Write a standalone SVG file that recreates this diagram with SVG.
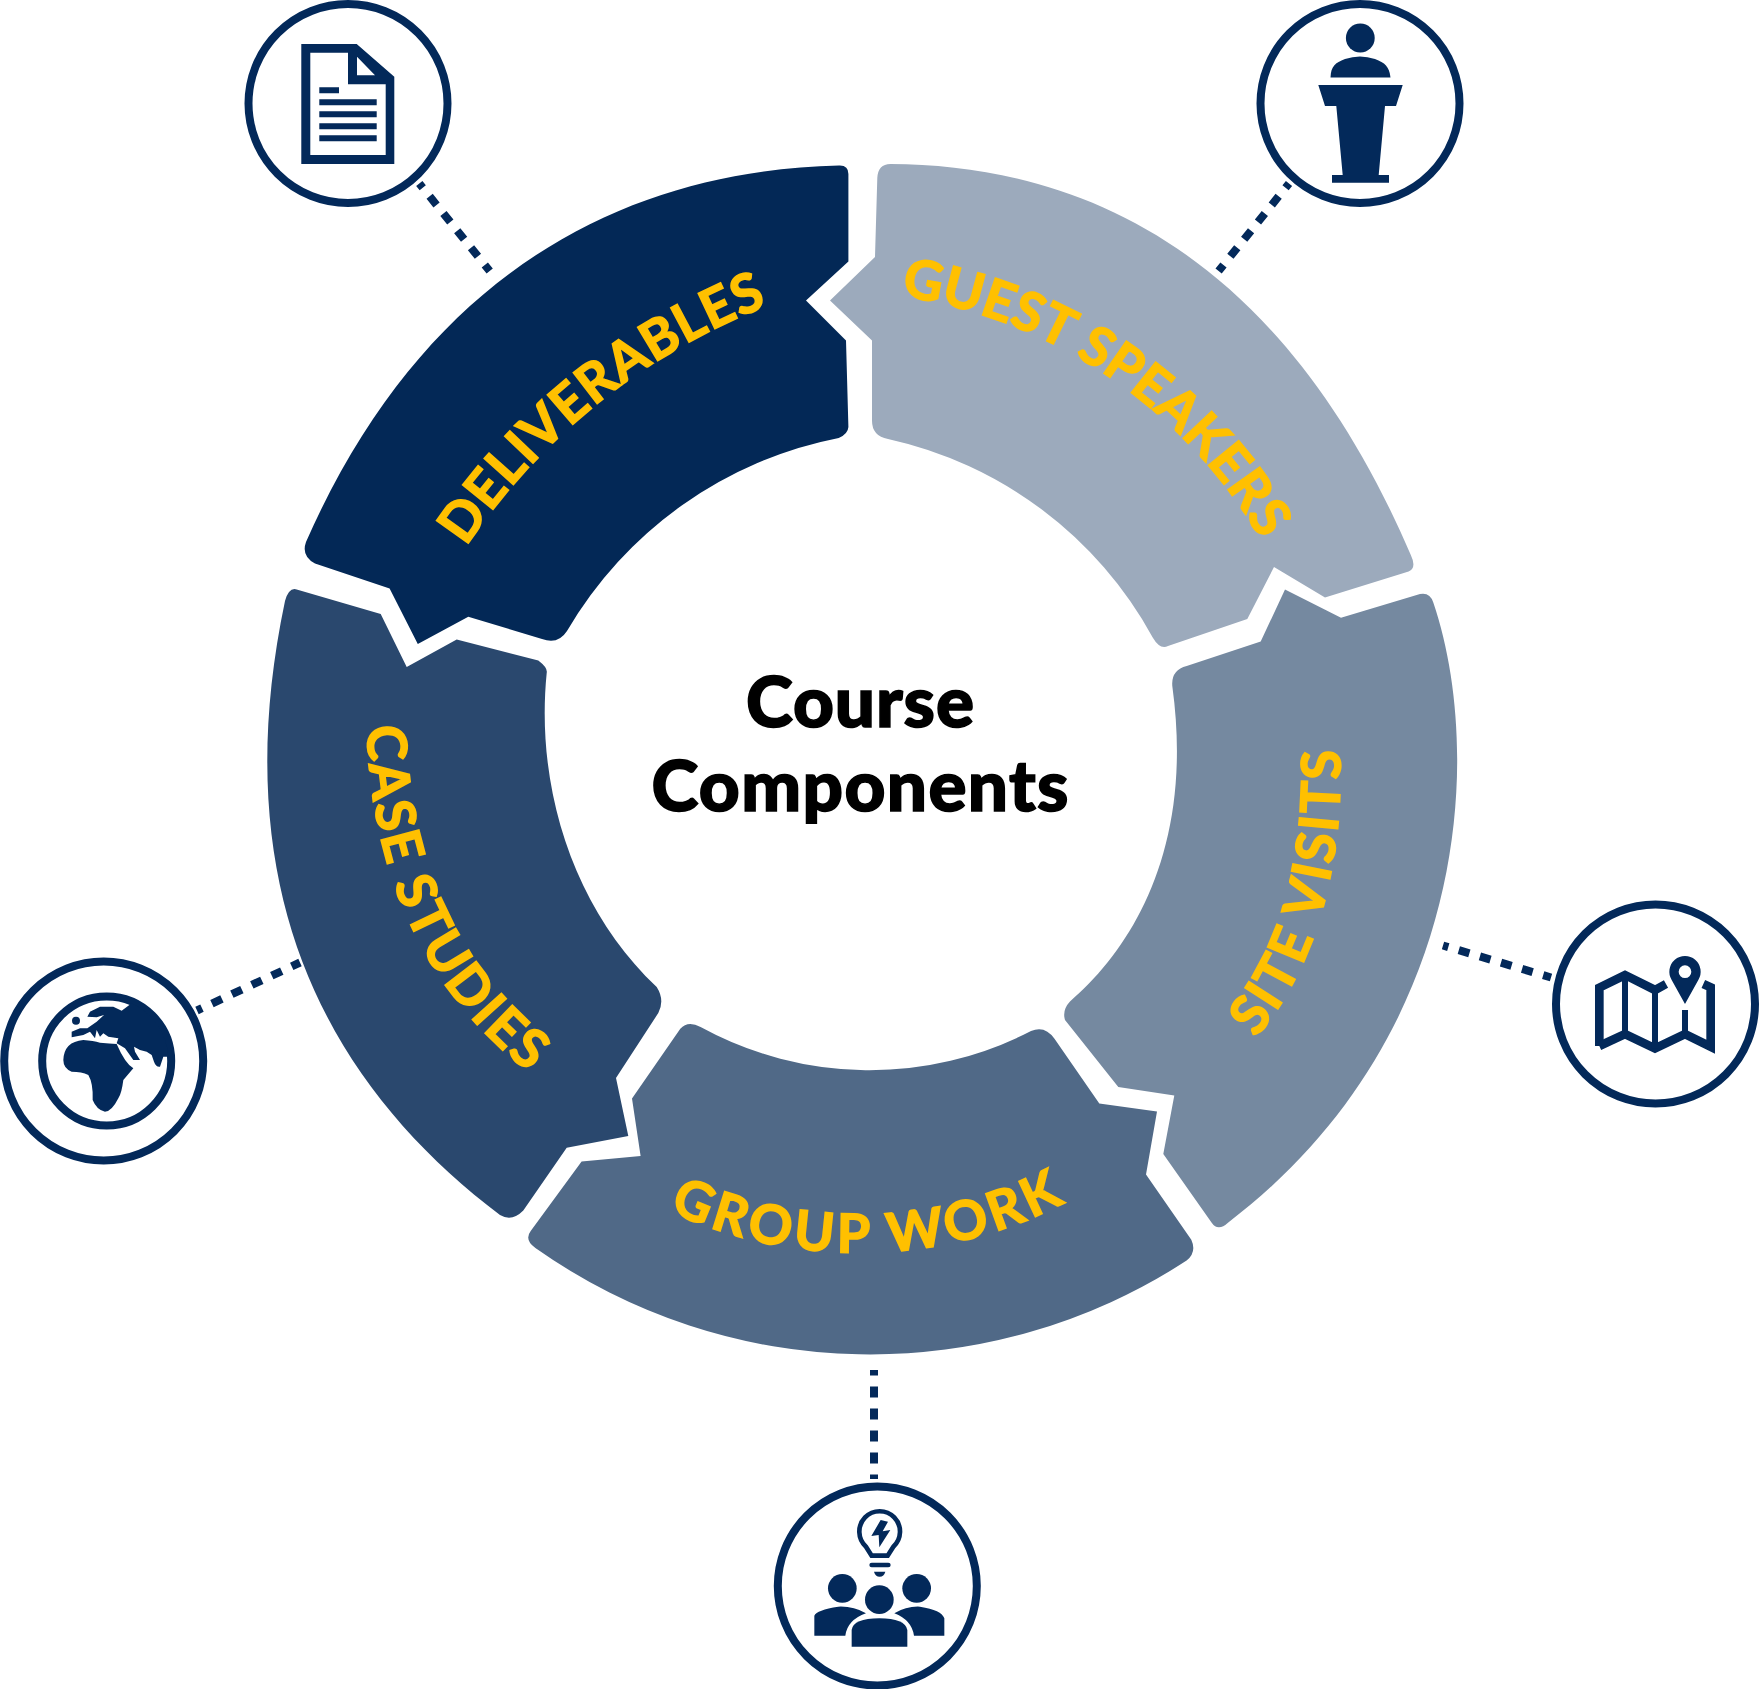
<svg xmlns="http://www.w3.org/2000/svg" width="1759" height="1689" viewBox="0 0 1759 1689">
<style>
.lab{font-family:"Lato","Liberation Sans",sans-serif;font-weight:700;font-size:54px;fill:#FFC000;stroke:#FFC000;stroke-width:1.6}
.ctr{font-family:"Lato","Liberation Sans",sans-serif;font-weight:900;font-size:71px;fill:#000;stroke:#000;stroke-width:1.6;text-anchor:middle}
.ring{fill:#fff;stroke:#03295A;stroke-width:8}
.ic{fill:#03295A}
.dash{fill:none;stroke:#03295A;stroke-width:8;stroke-dasharray:11 11;stroke-dashoffset:5.5}
</style>
<defs>
<path id="pD" d="M466,547 A640,640 0 0 1 767,306"/>
<path id="pG" d="M901,296 A500,500 0 0 1 1264,545"/>
<path id="pS" d="M1256,1038 C1309,975 1345,880 1340,745"/>
<path id="pW" d="M669,1211 A450,450 0 0 0 1068,1201"/>
<path id="pC" d="M367,726 C370,850 410,985 537,1078"/>
</defs>
<rect width="1759" height="1689" fill="#fff"/>
<g id="connectors">
<path class="dash" d="M419.3,183.5 L489.7,271"/>
<path class="dash" d="M1289,183.5 L1218.6,271"/>
<path class="dash" d="M197,1010.5 L300,962.5"/>
<path class="dash" d="M1443,945.5 L1551,977.5"/>
<path class="dash" d="M874,1370 L874,1479"/>
</g>
<g id="seg-deliverables">
<path fill="#032856" d="M848.4,174 Q848.4,165 839,165.5 C640,170 430,260 306,542 Q301,556 315,563.4 L389.6,588.5 L417.8,644 L468.3,616.7 L542,639 Q558,645 567,631 A405,405 0 0 1 838.7,438 Q848,434 848.4,427 L846,340.5 L806,300.5 L848.4,261.5 Z"/>
<text class="lab"><textPath href="#pD" textLength="392" lengthAdjust="spacing">DELIVERABLES</textPath></text>
</g>
<g id="seg-guest-speakers">
<path fill="#9CAABC" d="M877.3,178 Q878,164 890.4,164 C1080,165 1280,250 1410.8,555 Q1417,568 1408.6,571.6 L1325,597.6 L1274,567 L1247.3,619 L1168,646 Q1160,650 1152.7,637.5 A400,400 0 0 0 888,439 Q872,436 872,420.7 L872,340.5 L830,300.6 L875,257 Z"/>
<text class="lab"><textPath href="#pG" textLength="450" lengthAdjust="spacing">GUEST SPEAKERS</textPath></text>
</g>
<g id="seg-site-visits">
<path fill="#7589A0" d="M1285,589.5 L1341,617.7 L1420,594 Q1430,592 1433.3,602.5 C1485,755 1468,1040 1228,1222.7 Q1218,1232 1211.7,1222.7 L1163.3,1154 L1174.3,1095.6 L1118.3,1087 L1065,1020 Q1062,1010 1070,1001.5 C1130,950 1195,850 1172.3,686 Q1171,670 1186.7,666 L1260.7,641.6 Z"/>
<text class="lab"><textPath href="#pS" textLength="307" lengthAdjust="spacing">SITE VISITS</textPath></text>
</g>
<g id="seg-group-work">
<path fill="#506987" d="M680.3,1028.7 Q688,1020 700.6,1027 A352,352 0 0 0 1031,1031 Q1045,1025 1054.5,1038.8 L1099.3,1103.6 L1157,1111.4 L1146,1174.5 L1191.3,1239.7 Q1197,1252 1186.6,1260.6 A580,580 0 0 1 535.4,1248 Q524,1240 530.7,1231 L581.6,1161.4 L640.6,1156 L632,1098.6 Z"/>
<text class="lab"><textPath href="#pW" textLength="410" lengthAdjust="spacing">GROUP WORK</textPath></text>
</g>
<g id="seg-case-studies">
<path fill="#2A486E" d="M285,601 Q289,587 296.7,589.5 L380.7,614 L406.7,667 L456.7,639.4 L538.3,660.6 Q548,668 546.7,673 C535,790 575,910 656.7,987 Q665,1000 658.3,1013 L616,1078 L628.3,1136 L566.7,1147.7 L523.3,1210.5 Q512,1222 500,1215 C335,1090 222,900 285,601 Z"/>
<text class="lab"><textPath href="#pC" textLength="396" lengthAdjust="spacing">CASE STUDIES</textPath></text>
</g>
<g id="center-title">
<text class="ctr" x="860" y="727" textLength="228" lengthAdjust="spacing">Course</text>
<text class="ctr" x="860" y="811" textLength="417" lengthAdjust="spacing">Components</text>
</g>
<g id="icon-deliverables">
<circle class="ring" cx="348" cy="103.5" r="99.5"/>
<path class="ic" fill-rule="evenodd" d="M301.3,44 H356.7 L394.3,76.7 V164 H301.3 Z M310.3,52.7 V155 H385.7 V84.3 H348 V52.7 Z M357,56.7 V75.3 H375 Z"/>
<path class="ic" d="M319.3,87.3 H339 V93.3 H319.3 Z M319.3,99.3 H376.7 V105.3 H319.3 Z M319.3,111.3 H376.7 V117.3 H319.3 Z M319.3,123.3 H376.7 V129.3 H319.3 Z M319.3,135.3 H376.7 V141.3 H319.3 Z"/>
</g>
<g id="icon-guest-speakers">
<circle class="ring" cx="1360" cy="103.5" r="99.5"/>
<circle class="ic" cx="1360.3" cy="38" r="14.4"/>
<path class="ic" d="M1330.5,77.5 C1331,66 1335,63 1345,59 Q1360,54 1375,59 C1385,63 1389,66 1390.5,77.5 Z"/>
<path class="ic" d="M1318.3,85 H1402.7 L1396,106 H1385 L1378.7,175 H1389 V182.7 H1332 V175 H1342.7 L1336.3,106 H1325 Z"/>
</g>
<g id="icon-case-studies">
<circle class="ring" cx="103.7" cy="1061" r="99.5"/>
<circle class="ring" cx="106.7" cy="1061" r="64.5"/>
<g class="ic" transform="translate(0,920) scale(.33333)">
<path d="M395,250 A188,188 0 0 1 505,410 L490,410 L480,440 Q468,442 462,425 L455,405 L440,395 L420,390 L402,380 L405,395 L420,420 L400,420 L375,385 L350,370 L355,355 L325,350 L310,340 L300,350 L290,330 L285,355 L270,335 L250,345 L215,352 L215,335 L240,325 L262,325 L290,305 L312,285 L290,292 L262,290 L270,275 L300,260 L340,260 L365,272 Z"/>
<circle cx="228" cy="302" r="12"/>
<path d="M190,420 Q192,365 250,360 Q280,362 300,368 Q330,370 350,372 Q375,430 400,445 L370,480 Q365,520 355,535 Q335,575 315,575 Q290,570 278,540 Q280,490 265,465 Q245,455 215,455 Q190,445 190,420 Z"/>
</g>
</g>
<g id="icon-group-work">
<circle class="ring" cx="877.3" cy="1586" r="99.5"/>
<g class="ic" transform="translate(760,1470) scale(.33333)">
<path fill="none" stroke="#03295A" stroke-width="14" d="M335,257 L318,230 A61,61 0 1 1 400,230 L383,257 Z"/>
<path d="M362,150 L334,198 L356,195 L358,232 L391,180 L368,184 L384,155 Z"/>
<path fill="none" stroke="#03295A" stroke-width="14" stroke-linecap="round" d="M335,285 H385"/>
<path d="M342,305 H376 Q372,320 359,320 Q346,320 342,305 Z"/>
<circle cx="247" cy="355" r="43"/><circle cx="358" cy="389" r="43"/><circle cx="470" cy="355" r="43"/>
<path d="M163,497 V437 Q170,420 235,410 Q280,408 318,430 Q262,450 256,497 Z"/>
<path d="M553,497 V445 Q545,420 480,410 Q440,408 403,430 Q455,450 462,497 Z"/>
<path d="M275,530 V480 Q280,445 358,445 Q435,445 442,480 V530 Z"/>
</g>
</g>
<g id="icon-site-visits">
<circle class="ring" cx="1655.5" cy="1004" r="99.5"/>
<g transform="translate(1540,890) scale(.33333)">
<path d="M178,468 V293 L255,255 L345,300 L378,282" fill="none" stroke="#03295A" stroke-width="26"/>
<path d="M178,468 L255,432 L345,475 L435,432 L512,470 V292 L490,282" fill="none" stroke="#03295A" stroke-width="26"/>
<path d="M255,255 V432 M345,300 V475 M435,360 V432" fill="none" stroke="#03295A" stroke-width="18"/>
<path class="ic" fill-rule="evenodd" d="M435,342 L395,270 A47,47 0 1 1 475,270 Z M435,226 A19,19 0 1 0 435,264 A19,19 0 1 0 435,226 Z"/>
</g>
</g>
</svg>
